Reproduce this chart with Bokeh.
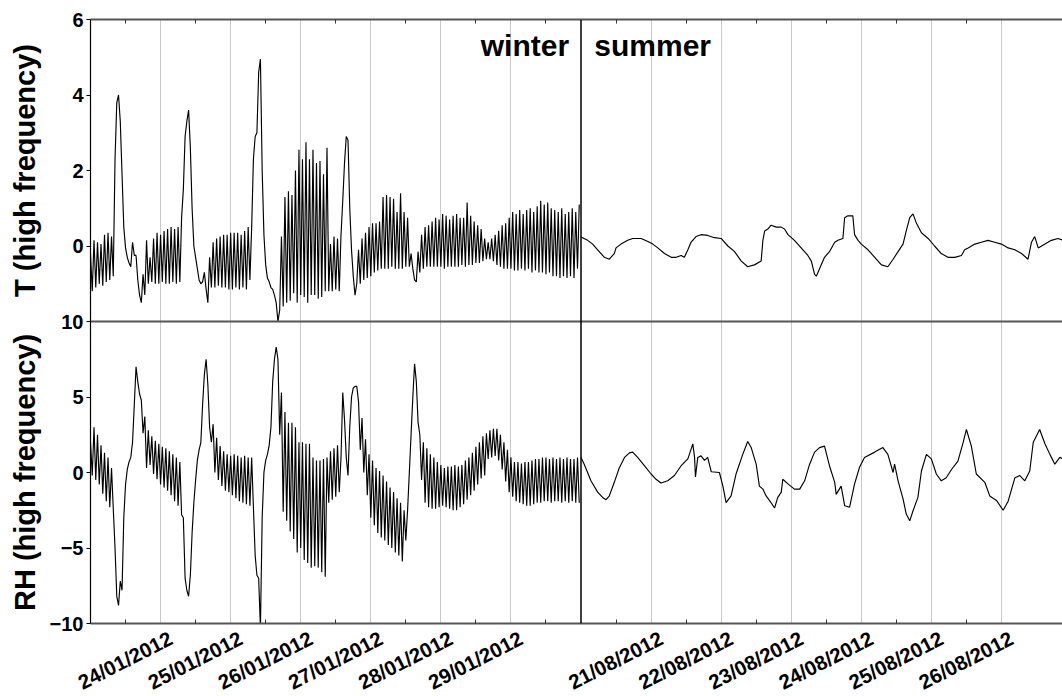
import pandas as pd
from math import pi
from bokeh.plotting import figure
from bokeh.layouts import row, column
from bokeh.models import Range1d, LinearAxis, FixedTicker, Grid, Span, Label
from bokeh.embed import file_html
from bokeh.resources import INLINE

FONT = "Liberation Sans"

# ---------------- data ----------------
winter_start = pd.Timestamp("2012-01-23 00:00")
winter_end = pd.Timestamp("2012-01-30 00:00")
winter_step = "36min"
summer_start = pd.Timestamp("2012-08-20 00:00")
summer_end = pd.Timestamp("2012-08-26 20:55")

winter_ticks = ["24/01/2012", "25/01/2012", "26/01/2012", "27/01/2012", "28/01/2012", "29/01/2012"]
summer_ticks = ["21/08/2012", "22/08/2012", "23/08/2012", "24/08/2012", "25/08/2012", "26/08/2012"]
T_ticks = [0, 2, 4, 6]
RH_ticks = [-10, -5, 0, 5, 10]
T_lim = (-2, 6)
RH_lim = (-10, 10)

# winter temperature (high frequency), one value every 36 min from 23/01/2012 00:00
T_winter = [
    -0.2, -1.2, 0.15, -1.1, 0.1, -1.0, 0.05, -1.05, 0.3, -0.95, 0.35, -0.9, 0.25, -0.8,
    2.3, 3.8, 4.0, 3.3, 1.9, 0.5, -0.05, -0.3, -0.45, -0.55, 0.1, -0.25, -0.25, -0.9, -1.3, -1.5,
    -0.75, -1.3, 0.15, -1.0, -0.3, -0.95, 0.2, -1.0, 0.35, -1.0, 0.3, -0.95, 0.4, -1.0, 0.45, -1.0,
    0.5, -0.95, 0.45, -1.0, 0.5, -0.95, 0.75,
    1.5, 2.9, 3.3, 3.6, 2.6, 1.0, 0.0, -0.3, -0.6, -0.9, -1.0, -0.95, -0.7, -1.15, -1.5,
    -0.3, -1.1, 0.1, -1.1, 0.2, -1.05, 0.25, -1.1, 0.3, -1.1, 0.3, -1.15, 0.35, -1.15, 0.35, -1.1,
    0.35, -1.15, 0.3, -1.1, 0.4, -1.15, 0.5, -0.9, 0.5,
    2.3, 2.9, 3.0, 4.6, 4.95, 2.0, 0.3, -0.5, -0.85, -0.95, -1.1, -1.15, -1.3, -1.5, -2.0,
    -1.7, 0.25, -1.6, 1.3, -1.5, 1.45, -1.45, 1.35, -1.25, 2.0, -1.5, 2.55, -1.3, 2.3, -1.35, 2.75,
    -1.5, 2.3, -1.3, 2.55, -1.3, 2.2, -1.4, 2.25, -1.35, 1.9, -1.2, 2.6, -1.2, 0.05, -1.2, 0.25,
    -1.15, 0.2, -1.2,
    0.3, 1.2, 2.2, 2.9, 2.8, 1.0, -0.1, -0.8, -1.3,
    -1.0, -0.1, -1.0, 0.2, -0.9, 0.35, -0.85, 0.5, -0.8, 0.6, -0.7, 0.6, -0.65, 0.65, -0.6, 1.3,
    -0.6, 1.35, -0.6, 1.3, -0.55, 1.25, -0.6, 0.9, -0.6, 1.4, -0.6, 0.9, -0.55, 0.75, -0.55,
    -0.2, -0.6, -0.9, -0.95,
    -0.15, -0.7, 0.3, -0.6, 0.5, -0.55, 0.55, -0.55, 0.65, -0.55, 0.75, -0.55, 0.7, -0.55, 0.85, -0.6,
    0.8, -0.55, 0.7, -0.55, 0.8, -0.55, 0.85, -0.55, 0.75, -0.5, 0.75, -0.55, 1.15, -0.5, 0.8, -0.5,
    0.65, -0.45, 0.55, -0.45, 0.45,
    -0.4, 0.2, -0.35, 0.1, -0.35, 0.2, -0.4,
    0.3, -0.5, 0.4, -0.55, 0.55, -0.6, 0.6, -0.6, 0.75, -0.6, 0.9, -0.65, 0.85, -0.65, 0.95, -0.6,
    0.85, -0.65, 0.95, -0.6, 1.0, -0.7, 0.9, -0.65, 1.05, -0.7, 1.2, -0.7, 1.1, -0.75, 1.15, -0.7,
    1.0, -0.8, 0.95, -0.8, 0.9, -0.85, 1.0, -0.8, 0.85, -0.85, 0.9, -0.8, 1.0, -0.85, 0.9, -0.6, 1.1,
]

# winter relative humidity (high frequency), same time steps
RH_winter = [
    2.0, -0.2, 3.0, -0.5, 2.5, -0.8, 1.8, -1.4, 1.3, -1.9, 1.0, -2.3, 0.3, -2.4,
    -5.0, -8.2, -8.8, -7.2, -7.8, -3.0, -0.8, 0.2, 0.7, 1.0, 2.0, 4.5, 7.0, 6.0, 5.2, 4.8, 2.6, 3.7, 0.3,
    2.8, 0.5, 2.4, -0.1, 2.1, -0.45, 1.9, -0.8, 1.7, -1.0, 1.6, -1.2, 1.4, -1.5, 1.2, -1.9, 1.0, -2.2,
    0.7, -2.8,
    -3.0, -7.0, -7.8, -8.2, -6.8, -4.0, -2.0, -0.5, 0.8, 1.5, 2.0, 4.5, 6.5, 7.5, 5.8, 3.0, 2.0, 3.2,
    0.0, 2.3, -0.5, 1.75, -0.9, 1.4, -1.2, 1.2, -1.3, 1.1, -1.5, 1.2, -1.7, 1.1, -1.9, 1.0, -2.0, 1.1,
    -2.1, 1.0, -2.2, 1.0,
    -2.3, -5.5, -6.8, -7.0, -10.3, -3.0, 0.0, 0.8, 1.2, 1.8, 3.0, 6.0, 7.5, 8.3, 7.5, 2.5, 5.3,
    -2.6, 4.0, -3.2, 3.3, -3.9, 3.3, -4.4, 3.0, -5.3, 2.0, -5.0, 2.0, -5.8, 1.9, -6.0, 1.9, -6.3, 1.0,
    -6.2, 0.8, -6.3, 0.8, -6.6, 0.9, -6.9, 1.0, -2.0, 1.4, -1.8, 1.6, -1.6, 1.8, -1.3,
    1.0, 5.3, 3.5, 1.0, -0.2, 3.0, 5.0, 5.6, 5.7, 5.7,
    4.7, 1.5, 3.6, 0.0, 2.2, -1.5, 1.2, -3.0, 0.8, -3.5, 0.3, -4.0, 0.1, -4.3, -0.2, -4.5, -0.6, -4.8,
    -1.0, -5.0, -1.3, -5.3, -1.7, -5.5, -2.0, -5.9, -2.5, -4.5, -2.5,
    0.0, 2.5, 5.0, 7.2, 6.0, 3.3, 2.5,
    -0.5, 2.0, -2.0, 1.6, -2.3, 1.2, -2.4, 1.0, -2.4, 0.7, -2.3, 0.5, -2.2, 0.3, -2.3, 0.4, -2.4, 0.4,
    -2.5, 0.5, -2.5, 0.4, -2.3, 0.5, -2.1, 0.8, -1.8, 1.0, -1.5, 1.3, -1.2, 1.7, -0.8, 2.0, -0.4, 2.4,
    -0.2, 2.6, 0.9, 2.8, 1.0, 2.9, 1.1, 2.9, 0.8, 2.5, 0.2, 2.0, -0.6, 1.5, -1.3, 1.0,
    -1.6, 0.7, -1.9, 0.7, -2.0, 0.6, -2.1, 0.7, -2.2, 0.7, -2.2, 0.8, -2.1, 0.9, -2.0, 0.9, -2.0, 1.0,
    -1.9, 1.0, -1.9, 0.9, -2.0, 1.0, -1.9, 0.9, -1.9, 1.0, -2.0, 0.9, -1.9, 1.0, -2.0, 0.9, -1.9, 0.9,
    -2.0, 1.0, -2.0,
]

# summer temperature: hours since 20/08/2012 00:00 and values
T_summer_hours = [
    0.0, 2.3, 4.0, 5.7, 8.0, 9.7, 11.4, 12.0, 13.7, 16.0, 17.7, 20.6, 22.9, 24.6, 26.3, 28.6, 30.9,
    32.6, 34.3, 35.4, 36.6, 37.7, 39.4, 41.1, 43.4, 45.7, 48.0, 50.3, 52.6, 54.9, 57.1, 59.4, 61.7,
    62.3, 62.9, 64.0, 65.1, 66.9, 68.6, 69.7, 70.9, 73.1, 75.4, 77.7, 78.9, 80.0, 80.6, 81.7, 83.4,
    85.1, 86.9, 88.0, 89.7, 90.3, 91.4, 93.1, 93.7, 94.9, 96.0, 98.3, 100.6, 102.9, 105.1, 106.9,
    108.6, 110.3, 111.4, 112.6, 113.7, 114.9, 116.6, 118.9, 121.1, 123.4, 125.7, 128.0, 130.3, 131.4,
    132.6, 134.9, 137.1, 139.4, 141.7, 144.0, 146.3, 148.6, 150.9, 153.1, 154.3, 155.4, 156.6, 158.9,
    161.1, 163.4, 165.3,
]
T_summer = [
    0.24, 0.15, 0.05, -0.1, -0.3, -0.35, -0.2, -0.05, 0.05, 0.15, 0.2, 0.2, 0.12, 0.05, -0.05, -0.2, -0.3,
    -0.3, -0.25, -0.3, -0.1, 0.1, 0.25, 0.3, 0.28, 0.22, 0.2, 0.0, -0.15, -0.4, -0.55, -0.5, -0.4,
    0.15, 0.4, 0.45, 0.55, 0.5, 0.5, 0.45, 0.3, 0.15, -0.05, -0.25, -0.4, -0.75, -0.8, -0.6, -0.3,
    -0.15, 0.1, 0.15, 0.2, 0.75, 0.8, 0.8, 0.3, 0.15, 0.05, -0.1, -0.3, -0.5, -0.55, -0.35,
    -0.15, 0.05, 0.4, 0.75, 0.85, 0.6, 0.35, 0.2, 0.0, -0.2, -0.3, -0.3, -0.25, -0.1,
    -0.05, 0.05, 0.1, 0.15, 0.1, 0.05, -0.05, -0.1, -0.2, -0.35, 0.1, 0.25, -0.05, 0.05,
    0.15, 0.2, 0.15,
]

# summer relative humidity: hours since 20/08/2012 00:00 and values
RH_summer_hours = [
    0.0, 1.1, 3.4, 5.7, 7.4, 8.6, 9.7, 11.4, 13.1, 14.9, 16.6, 17.7, 19.4, 21.7, 24.0, 25.7, 27.4,
    29.7, 32.0, 34.3, 36.6, 38.3, 38.9, 39.2, 40.0, 41.1, 42.3, 43.4, 44.6, 47.4, 48.6, 49.7, 51.4,
    53.1, 55.4, 57.1, 58.3, 60.0, 61.1, 62.3, 63.4, 65.1, 66.3, 67.4, 68.6, 69.1, 70.9, 73.1, 74.9,
    76.6, 78.3, 80.0, 81.7, 83.4, 85.1, 86.9, 87.4, 89.1, 90.3, 92.0, 93.7, 95.4, 97.1, 100.6, 103.4,
    105.1, 106.9, 107.4, 108.6, 110.3, 111.4, 112.6, 113.7, 115.4, 116.6, 118.3, 120.0, 121.7, 123.4,
    125.1, 126.9, 129.1, 130.9, 132.0, 133.7, 135.4, 138.3, 140.0, 142.3, 144.6, 146.3, 148.6, 150.3,
    152.0, 153.7, 154.9, 157.1, 158.9, 160.6, 162.3, 164.0, 165.3,
]
RH_summer = [
    1.0, 0.55, -0.55, -1.3, -1.65, -1.8, -1.55, -0.65, 0.3, 1.0, 1.3, 1.35, 1.0, 0.45, -0.1, -0.45, -0.7,
    -0.55, -0.2, 0.45, 0.9, 1.9, 1.0, -0.3, 1.0, 1.1, 0.8, 1.0, 0.05, 0.0, -0.9, -2.0, -1.55,
    -0.1, 1.2, 2.05, 1.65, 0.55, -0.9, -1.1, -1.55, -2.0, -2.35, -1.65, -1.3, -0.45, -0.75, -1.1, -1.1,
    -0.55, 0.55, 1.35, 1.65, 1.75, 0.45, -0.65, -1.45, -0.9, -2.2, -2.3, -0.75, 0.35, 1.0, 1.35, 1.65,
    1.2, 0.0, 0.55, -0.55, -1.75, -2.75, -3.2, -2.55, -1.65, 0.1, 1.2, 0.9, -0.1, -0.55,
    -0.35, 0.2, 0.75, 2.0, 2.85, 1.75, -0.1, -0.65, -1.55, -1.85, -2.5, -1.9, -0.35, -0.2,
    -0.55, 0.1, 2.0, 2.85, 1.9, 1.2, 0.55, 1.0, 0.9,
]

# ---------------- derived tables ----------------
DAY = pd.Timedelta(days=1)
winter_times = pd.date_range(winter_start, periods=len(T_winter), freq=winter_step)
winter_times_rh = pd.date_range(winter_start, periods=len(RH_winter), freq=winter_step)
T_summer_times = summer_start + pd.to_timedelta(T_summer_hours, unit="h")
RH_summer_times = summer_start + pd.to_timedelta(RH_summer_hours, unit="h")

winter_len = (winter_end - winter_start) / DAY
summer_len = (summer_end - summer_start) / DAY
total_len = winter_len + summer_len

# shared panel-day axis: winter panel then summer panel
x_pos, x_lab = [], []
for s in winter_ticks:
    x_pos.append(int(round((pd.to_datetime(s, format="%d/%m/%Y") - winter_start) / DAY)))
    x_lab.append(s)
for s in summer_ticks:
    x_pos.append(int(round(winter_len + (pd.to_datetime(s, format="%d/%m/%Y") - summer_start) / DAY)))
    x_lab.append(s)
x_minor = [k + 0.5 for k in range(int(total_len))]

# y: RH panel below, T panel stacked above with the same height
rh_span = RH_lim[1] - RH_lim[0]
t_span = T_lim[1] - T_lim[0]
y_default = Range1d(RH_lim[0], RH_lim[1] + rh_span)
t_range = Range1d(T_lim[0] - t_span, T_lim[1])


def t_to_default(t):
    return RH_lim[0] + (t - t_range.start) * (2 * rh_span) / (2 * t_span)


t_pos = [int(round(t_to_default(t))) for t in T_ticks]

# ---------------- layout geometry ----------------
W, H = 1062, 696
FRAME_LEFT, FRAME_W = 90, 972
TOP, BOT = 19, 14
FRAME_BOTTOM = 623
MAIN_H = FRAME_BOTTOM + BOT
TITLE_W = 45
STRIP_TOP = FRAME_BOTTOM + 3          # date labels start just under the frame
LABEL_H = H - STRIP_TOP
OVERLAP = MAIN_H - STRIP_TOP

p = figure(width=W - TITLE_W, height=MAIN_H, output_backend="svg", toolbar_location=None,
           x_range=Range1d(0, total_len), y_range=y_default,
           x_axis_type=None, y_axis_type=None,
           min_border_left=FRAME_LEFT - TITLE_W, min_border_right=0,
           min_border_top=TOP, min_border_bottom=BOT)
p.outline_line_color = None
p.background_fill_color = "white"
p.border_fill_color = "white"

p.extra_x_ranges = {
    "winter": Range1d(winter_start, winter_start + total_len * DAY),
    "summer": Range1d(summer_start - winter_len * DAY, summer_end),
}
p.extra_y_ranges = {"T": t_range}

xt = FixedTicker(ticks=x_pos, minor_ticks=x_minor)
p.add_layout(Grid(dimension=0, ticker=xt, grid_line_color="#c8c8c8", grid_line_width=1))

for side in ("below", "above"):
    ax = LinearAxis(ticker=xt, major_label_text_font_size="0px", major_label_text_alpha=0,
                    major_label_standoff=0, major_tick_in=0, major_tick_out=0,
                    minor_tick_in=4, minor_tick_out=0,
                    axis_line_color="#555555", axis_line_width=2, minor_tick_line_color="#333333")
    p.add_layout(ax, side)

yt = FixedTicker(ticks=RH_ticks + t_pos)
left = LinearAxis(ticker=yt, major_label_overrides={tp: str(t) for tp, t in zip(t_pos, T_ticks)},
                  major_label_text_font=FONT, major_label_text_font_style="bold",
                  major_label_text_font_size="20px", major_label_text_color="black",
                  major_label_standoff=3, major_tick_out=4, major_tick_in=0,
                  minor_tick_out=0, minor_tick_in=0,
                  axis_line_color="black", axis_line_width=1.2)
p.add_layout(left, "left")

# panel separators
p.add_layout(Span(location=RH_lim[1], dimension="width", line_color="#555555", line_width=2))
p.add_layout(Span(location=winter_len, dimension="height", line_color="black", line_width=1.5))

# data lines
lw = 1.15
p.line(winter_times, T_winter, x_range_name="winter", y_range_name="T", line_color="black", line_width=lw)
p.line(winter_times_rh, RH_winter, x_range_name="winter", line_color="black", line_width=lw)
p.line(T_summer_times, T_summer, x_range_name="summer", y_range_name="T", line_color="black", line_width=lw)
p.line(RH_summer_times, RH_summer, x_range_name="summer", line_color="black", line_width=lw)

# season texts
season_y = t_to_default(5.3)
p.add_layout(Label(x=winter_len - 0.17, y=season_y, text="winter", text_align="right",
                   text_baseline="middle", text_font=FONT, text_font_style="bold",
                   text_font_size="30px", text_color="black"))
p.add_layout(Label(x=winter_len + 0.19, y=season_y, text="summer", text_align="left",
                   text_baseline="middle", text_font=FONT, text_font_style="bold",
                   text_font_size="30px", text_color="black"))

# narrow strip holding the two y-axis titles, sharing the y range
tf = figure(width=TITLE_W, height=MAIN_H, output_backend="svg", toolbar_location=None,
            x_range=Range1d(0, 1), y_range=y_default, x_axis_type=None, y_axis_type=None,
            min_border_left=0, min_border_right=0, min_border_top=TOP, min_border_bottom=BOT)
tf.outline_line_color = None
tf.grid.visible = False
t_mid = t_to_default((T_lim[0] + T_lim[1]) / 2)
rh_mid = (RH_lim[0] + RH_lim[1]) / 2
for ymid, txt in [(t_mid, "T (high frequency)"), (rh_mid, "RH (high frequency)")]:
    tf.add_layout(Label(x=0.55, y=ymid, text=txt, angle=pi / 2,
                        text_align="center", text_baseline="middle", text_font=FONT,
                        text_font_style="bold", text_font_size="29px", text_color="black"))

# transparent strip under the plot carrying the slanted date labels (same x scale as the frame);
# it is pulled up so that it overlaps the bottom margin of the plot row
px_per_day = FRAME_W / total_len
xl = figure(width=W, height=LABEL_H, output_backend="svg", toolbar_location=None,
            x_range=Range1d(-FRAME_LEFT / px_per_day, total_len), y_range=Range1d(0, 1),
            x_axis_type=None, y_axis_type=None,
            min_border_left=0, min_border_right=0, min_border_top=0, min_border_bottom=0,
            margin=(-OVERLAP, 0, 0, 0))
xl.outline_line_color = None
xl.background_fill_color = None
xl.border_fill_color = None
xl.grid.visible = False
for pos, lab in zip(x_pos, x_lab):
    xl.add_layout(Label(x=pos, y=1, x_offset=5, y_offset=0, text=lab, angle=0.47,
                        text_align="right", text_baseline="top", text_font=FONT,
                        text_font_style="bold", text_font_size="20.5px", text_color="black"))

layout = column(row(tf, p), xl)
open("out.html", "w").write(file_html(layout, INLINE))
